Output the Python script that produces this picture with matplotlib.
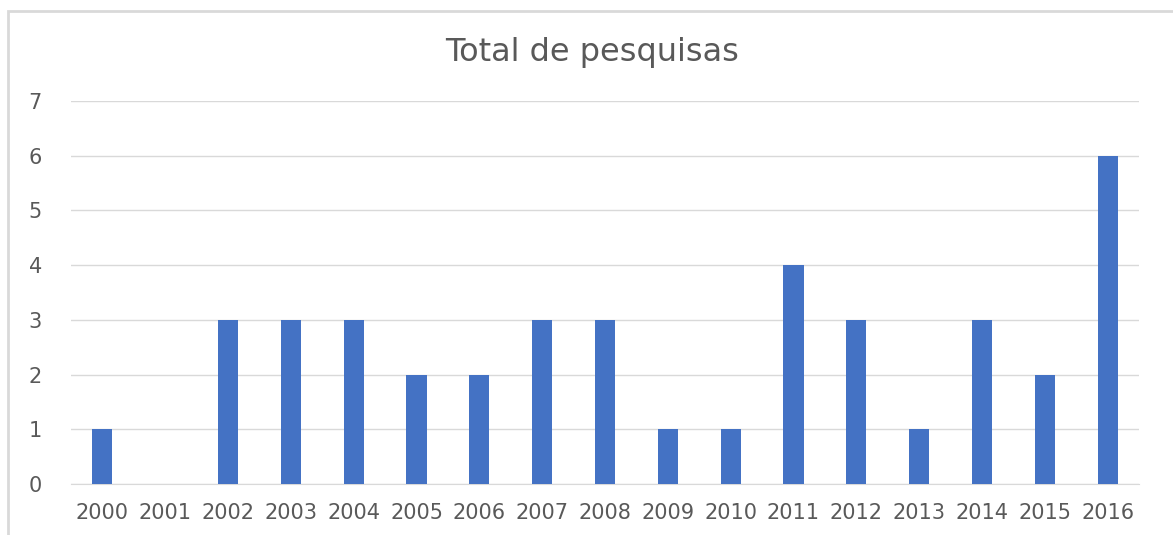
import matplotlib.pyplot as plt
from matplotlib.patches import Rectangle

years = ["2000", "2001", "2002", "2003", "2004", "2005", "2006", "2007", "2008",
         "2009", "2010", "2011", "2012", "2013", "2014", "2015", "2016"]
totals = [1, 0, 3, 3, 3, 2, 2, 3, 3, 1, 1, 4, 3, 1, 3, 2, 6]

plt.rcParams['font.family'] = ['DejaVu Sans']
txt = "#595959"

fig = plt.figure(figsize=(11.73, 5.35), dpi=100)
fig.patches.append(Rectangle((8 / 1173, -0.1), 1.2, 1 - 11 / 535 + 0.1,
                             transform=fig.transFigure, fill=False,
                             edgecolor="#d9d9d9", lw=2))
ax = fig.add_axes([71 / 1173, 1 - 484 / 535, (1139 - 71) / 1173, (484 - 101) / 535])

x = range(len(years))
ax.bar(x, totals, width=0.32, color="#4472C4", zorder=3)
ax.set_xlim(-0.5, len(years) - 0.5)
ax.set_ylim(0, 7)
ax.set_xticks(list(x))
ax.set_xticklabels(years)
ax.set_yticks(range(8))
ax.grid(axis="y", color="#d9d9d9", lw=1, zorder=0)
for s in ["top", "right", "left"]:
    ax.spines[s].set_visible(False)
ax.spines["bottom"].set_color("#d9d9d9")
ax.tick_params(axis="both", length=0, colors=txt, labelsize=15)
ax.tick_params(axis="y", pad=21)
ax.tick_params(axis="x", pad=14)

fig.text(0.505, 1 - 52 / 535, "Total de pesquisas", ha="center", va="center",
         fontsize=23, color=txt)

fig.savefig("out.png", dpi=100)
